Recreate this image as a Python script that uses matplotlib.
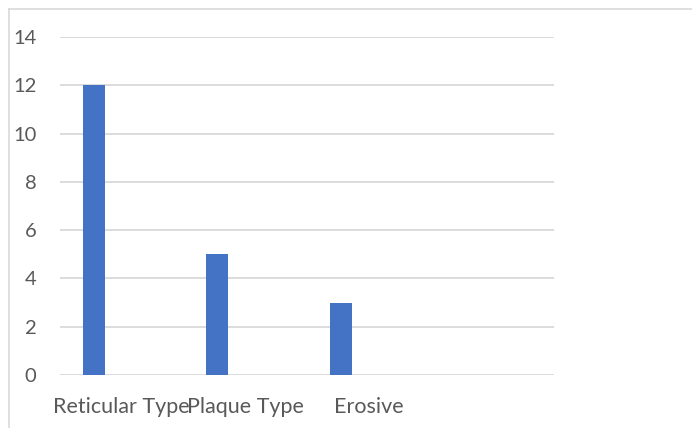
import matplotlib.pyplot as plt
from matplotlib.lines import Line2D

categories = ['Reticular Type', 'Plaque Type', 'Erosive', '']
counts = [12, 5, 3, 0]
yticks = [0, 2, 4, 6, 8, 10, 12, 14]

plt.rcParams['font.family'] = ['Lato', 'DejaVu Sans']

fig = plt.figure(figsize=(6.92, 4.28), dpi=100)
ax = fig.add_axes([60/692, 1-375/428, 494/692, 338/428])

xs = list(range(len(categories)))
# bars sit left of the category centre (clustered chart, one series)
bar_x = [x - 0.227 for x in xs[:3]]
ax.bar(bar_x, counts[:3], width=0.178, color='#4472C4', zorder=3)

ax.set_xlim(-0.5, 3.5)
ax.set_ylim(0, 14)
ax.set_yticks(yticks)
ax.set_xticks(xs)
ax.set_xticklabels(categories)
ax.grid(axis='y', color='#D9D9D9', linewidth=1.3, zorder=0)
for s in ax.spines.values():
    s.set_visible(False)
ax.tick_params(length=0, labelcolor='#595959')
ax.tick_params(axis='y', pad=17, labelsize=14.5)
ax.tick_params(axis='x', pad=16, labelsize=15.5)

# chart area border, cut off at right and bottom
fig.add_artist(Line2D([9/692, 9/692], [0, 1-9/428], color='#D9D9D9', lw=1.2))
fig.add_artist(Line2D([9/692, 1], [1-9/428, 1-9/428], color='#D9D9D9', lw=1.2))

plt.savefig('out.png', dpi=100)
